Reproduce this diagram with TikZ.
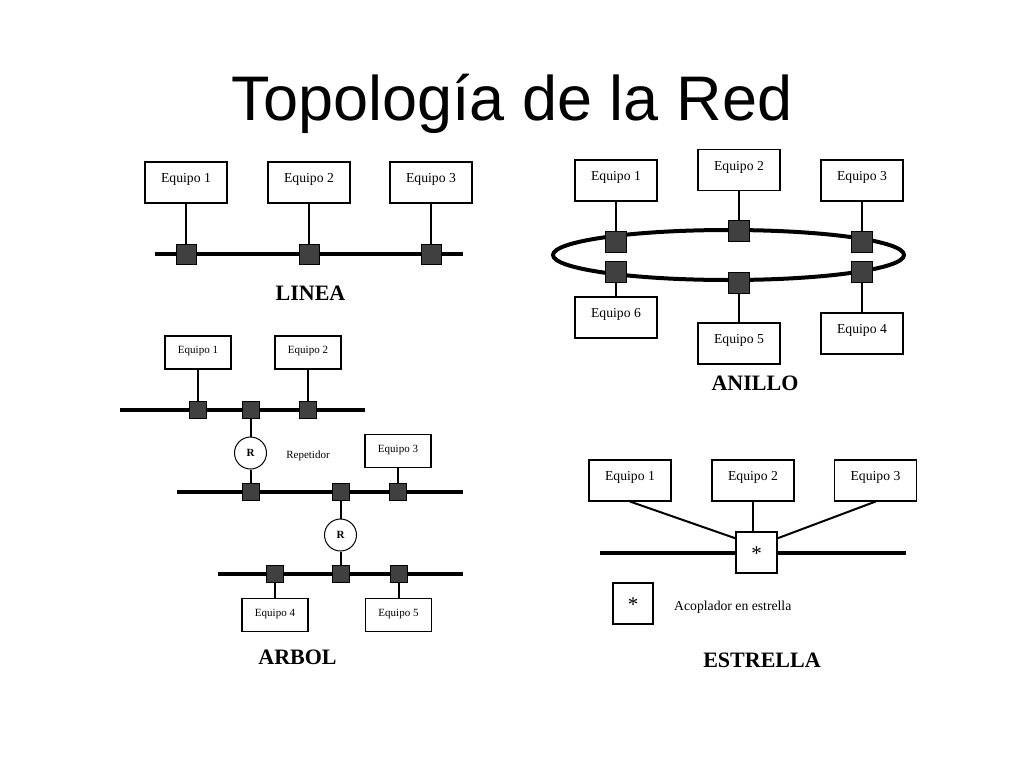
\documentclass[tikz,border=0pt]{standalone}
\usepackage{fontspec}
\setmainfont{Liberation Serif}
\newfontfamily\titlefont{Liberation Sans}
\definecolor{tapgray}{HTML}{404040}
\begin{document}
\begin{tikzpicture}[x=1pt,y=-1pt,
  eqbox/.style={draw, line width=1.1pt, fill=white, minimum width=82pt, minimum height=41pt,
    inner sep=0pt, text height=9pt, text depth=9pt, font=\fontsize{13.7}{14}\selectfont},
  eqsmall/.style={eqbox, minimum width=66pt, minimum height=33pt,
    text height=8.5pt, text depth=6.5pt, font=\fontsize{11}{12}\selectfont},
  tap/.style={draw=black, line width=0.8pt, fill=tapgray, minimum size=20pt, inner sep=0pt},
  tapsmall/.style={tap, minimum size=17pt},
  bus/.style={line width=4pt},
  wire/.style={line width=2pt},
  rep/.style={circle, draw, line width=1pt, fill=white, minimum size=32pt, inner sep=0pt,
    font=\fontsize{11}{12}\selectfont\bfseries},
  coupler/.style={draw, line width=1.1pt, fill=white, minimum size=41pt, inner sep=0pt,
    text height=16pt, text depth=0pt, font=\fontsize{21}{21}\selectfont},
  topo/.style={anchor=base, font=\fontsize{22}{24}\selectfont\bfseries},
  plain/.style={font=\fontsize{13.7}{14}\selectfont},
]
\useasboundingbox (0,0) rectangle (1024,768);

% Title
\node[anchor=base, font=\titlefont\fontsize{63}{63}\selectfont] (title) at (512,120) {Topología de la Red};

% ================= LINEA =================
\coordinate (lA) at (155,254);
\coordinate (lB) at (463,254);
\draw[bus] (lA) -- (lB);
\node[eqbox] (l1) at (186,182.5) {Equipo 1};
\node[eqbox] (l2) at (309,182.5) {Equipo 2};
\node[eqbox] (l3) at (431,182.5) {Equipo 3};
\draw[wire] (l1.south) -- (186,254) coordinate (lt1c);
\draw[wire] (l2.south) -- (309,254) coordinate (lt2c);
\draw[wire] (l3.south) -- (431,254) coordinate (lt3c);
\node[tap] (lt1) at (lt1c) {};
\node[tap] (lt2) at (lt2c) {};
\node[tap] (lt3) at (lt3c) {};
\node[topo] (linea) at (310.5,300) {LINEA};

% ================= ANILLO =================
\draw[bus] (728.5,255) ellipse [x radius=175.5, y radius=25];
\node[eqbox] (a1) at (616,180.5) {Equipo 1};
\node[eqbox] (a2) at (739,170) {Equipo 2};
\node[eqbox] (a3) at (862,180.5) {Equipo 3};
\node[eqbox] (a6) at (616,317.5) {Equipo 6};
\node[eqbox] (a5) at (739,343.5) {Equipo 5};
\node[eqbox] (a4) at (862,333.5) {Equipo 4};
\coordinate (at1c) at (616,242);
\coordinate (at2c) at (739,231);
\coordinate (at3c) at (862,242);
\coordinate (at6c) at (616,272);
\coordinate (at5c) at (739,283);
\coordinate (at4c) at (862,272);
\draw[wire] (a1.south) -- (at1c);
\draw[wire] (a2.south) -- (at2c);
\draw[wire] (a3.south) -- (at3c);
\draw[wire] (a6.north) -- (at6c);
\draw[wire] (a5.north) -- (at5c);
\draw[wire] (a4.north) -- (at4c);
\foreach \i in {1,...,6} {\node[tap, minimum size=21pt] (at\i) at (at\i c) {};}
\node[topo] (anillo) at (755,390) {ANILLO};

% ================= ARBOL =================
\draw[bus] (120,410) coordinate (b1A) -- (365,410) coordinate (b1B);
\draw[bus] (177,492) coordinate (b2A) -- (463,492) coordinate (b2B);
\draw[bus] (218,574) coordinate (b3A) -- (463,574) coordinate (b3B);
\node[eqsmall] (r1) at (198,352.5) {Equipo 1};
\node[eqsmall] (r2) at (308,352.5) {Equipo 2};
\node[eqsmall] (r3) at (398,451) {Equipo 3};
\node[eqsmall] (r4) at (275,615) {Equipo 4};
\node[eqsmall] (r5) at (398.5,615) {Equipo 5};
\coordinate (bt1c) at (198,410);
\coordinate (bt2c) at (250.5,410);
\coordinate (bt3c) at (308,410);
\coordinate (bt4c) at (250.5,492);
\coordinate (bt5c) at (340.5,492);
\coordinate (bt6c) at (398,492);
\coordinate (bt7c) at (275,574);
\coordinate (bt8c) at (340.5,574);
\coordinate (bt9c) at (398.5,574);
\node[rep] (rep1) at (250.5,453) {R};
\node[rep] (rep2) at (340.5,535) {R};
\draw[wire] (r1.south) -- (bt1c);
\draw[wire] (r2.south) -- (bt3c);
\draw[wire] (bt2c) -- (rep1.north);
\draw[wire] (rep1.south) -- (bt4c);
\draw[wire] (r3.south) -- (bt6c);
\draw[wire] (bt5c) -- (rep2.north);
\draw[wire] (rep2.south) -- (bt8c);
\draw[wire] (r4.north) -- (bt7c);
\draw[wire] (r5.north) -- (bt9c);
\foreach \i in {1,...,9} {\node[tapsmall] (bt\i) at (bt\i c) {};}
\node[font=\fontsize{11}{12}\selectfont] (repet) at (308,456) {Repetidor};
\node[topo] (arbol) at (297.5,664) {ARBOL};

% ================= ESTRELLA =================
\draw[bus] (600,553) coordinate (eA) -- (906,553) coordinate (eB);
\node[eqbox] (e1) at (630,480.5) {Equipo 1};
\node[eqbox] (e2) at (753,480.5) {Equipo 2};
\node[eqbox] (e3) at (875.5,480.5) {Equipo 3};
\node[coupler] (cb) at (756.5,552.5) {*};
\draw[wire] (e1.south) -- (cb.146);
\draw[wire] (e2.south) -- (e2.south |- cb.north);
\draw[wire] (e3.south) -- (cb.34);
\node[coupler, minimum width=40pt] (legend) at (633,603.5) {*};
\node[plain, anchor=west, inner sep=0pt] (legtext) at (674,607) {Acoplador en estrella};
\node[topo] (estrella) at (762,667) {ESTRELLA};
\end{tikzpicture}
\end{document}
